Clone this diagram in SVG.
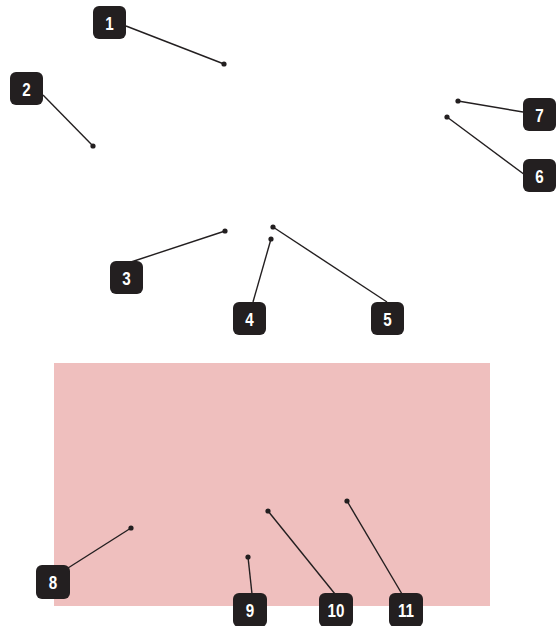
<svg xmlns="http://www.w3.org/2000/svg" width="560" height="626" viewBox="0 0 560 626">
<style>
.b rect{fill:#231f20}
.b text{fill:#fff;font-family:"Liberation Sans","DejaVu Sans",sans-serif;font-weight:bold;font-size:19px;text-anchor:middle}
.c line{stroke:#231f20;stroke-width:1.4}
.c circle{fill:#231f20}
</style>
<rect id="area" x="54" y="363" width="436" height="243" fill="#efbfbe"/>
<g class="c" id="connectors">
<line x1="126" y1="26" x2="224" y2="64"/><circle cx="224" cy="64" r="2.6"/>
<line x1="43" y1="95" x2="93" y2="146"/><circle cx="93" cy="146" r="2.6"/>
<line x1="131" y1="262" x2="225" y2="231"/><circle cx="225" cy="231" r="2.6"/>
<line x1="253" y1="302" x2="271" y2="239"/><circle cx="271" cy="239" r="2.6"/>
<line x1="387" y1="302" x2="273" y2="227"/><circle cx="273" cy="227" r="2.6"/>
<line x1="525" y1="175" x2="447" y2="117"/><circle cx="447" cy="117" r="2.6"/>
<line x1="523" y1="112" x2="458" y2="101"/><circle cx="458" cy="101" r="2.6"/>
<line x1="68" y1="568" x2="131" y2="528"/><circle cx="131" cy="528" r="2.6"/>
<line x1="252" y1="594" x2="248" y2="557"/><circle cx="248" cy="557" r="2.6"/>
<line x1="335" y1="594" x2="268" y2="511"/><circle cx="268" cy="511" r="2.6"/>
<line x1="402" y1="594" x2="347" y2="501"/><circle cx="347" cy="501" r="2.6"/>
</g>
<g class="b" id="n1"><rect x="93" y="6" width="33" height="33" rx="6"/><text transform="translate(109.5,29.5) scale(0.8,1)">1</text></g>
<g class="b" id="n2"><rect x="10" y="72" width="33" height="33" rx="6"/><text transform="translate(26.5,95.5) scale(0.8,1)">2</text></g>
<g class="b" id="n3"><rect x="110" y="261" width="33" height="33" rx="6"/><text transform="translate(126.5,284.5) scale(0.8,1)">3</text></g>
<g class="b" id="n4"><rect x="233" y="302" width="33" height="33" rx="6"/><text transform="translate(249.5,325.5) scale(0.8,1)">4</text></g>
<g class="b" id="n5"><rect x="371" y="302" width="33" height="33" rx="6"/><text transform="translate(387.5,325.5) scale(0.8,1)">5</text></g>
<g class="b" id="n6"><rect x="523" y="159" width="33" height="33" rx="6"/><text transform="translate(539.5,182.5) scale(0.8,1)">6</text></g>
<g class="b" id="n7"><rect x="523" y="98" width="33" height="33" rx="6"/><text transform="translate(539.5,121.5) scale(0.8,1)">7</text></g>
<g class="b" id="n8"><rect x="36" y="565" width="34" height="34" rx="6"/><text transform="translate(53,589) scale(0.8,1)">8</text></g>
<g class="b" id="n9"><rect x="233" y="593" width="34" height="34" rx="6"/><text transform="translate(250,617) scale(0.8,1)">9</text></g>
<g class="b" id="n10"><rect x="319" y="593" width="34" height="34" rx="6"/><text transform="translate(336,617) scale(0.8,1)">10</text></g>
<g class="b" id="n11"><rect x="389" y="593" width="34" height="34" rx="6"/><text transform="translate(406,617) scale(0.8,1)">11</text></g>
</svg>
